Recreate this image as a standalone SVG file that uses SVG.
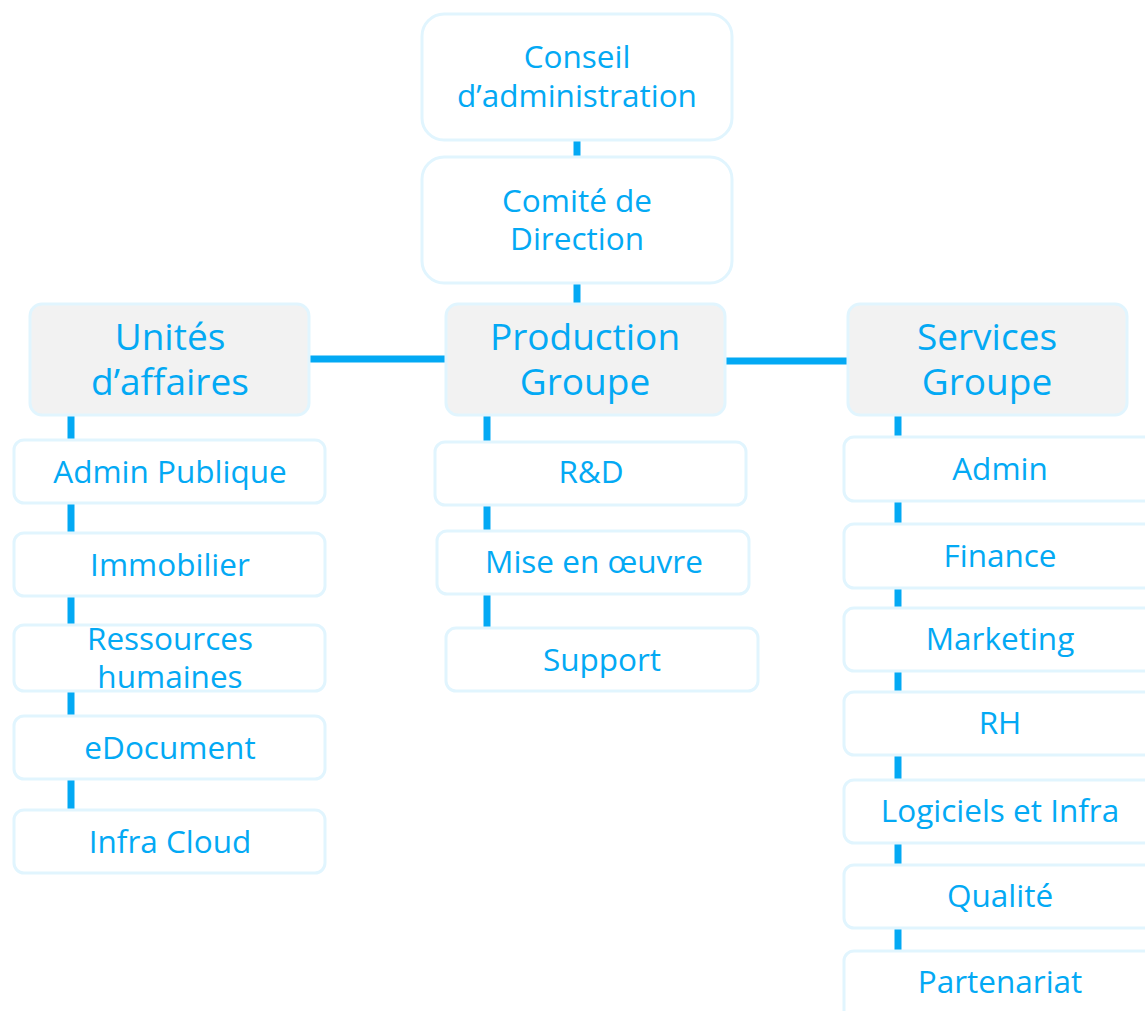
<svg xmlns="http://www.w3.org/2000/svg" width="1145" height="1011" viewBox="0 0 1145 1011">
<style>
.box{fill:#ffffff;stroke:#e1f5fe;stroke-width:3}
.hdr{fill:#f2f2f2;stroke:#e1f5fe;stroke-width:3}
.t{font-family:"Open Sans","Noto Sans",sans-serif;fill:#03a9f4;text-anchor:middle}
.s{font-size:31.5px}
.h{font-size:37px}
.c{stroke:#03a9f4;stroke-width:7;fill:none}
</style>
<rect width="1145" height="1011" fill="#ffffff"/>
<g id="connectors">
<line class="c" x1="577" y1="139" x2="577" y2="158"/>
<line class="c" x1="577" y1="282" x2="577" y2="305"/>
<line class="c" x1="308" y1="359" x2="447" y2="359"/>
<line class="c" x1="724" y1="361" x2="849" y2="361"/>
<line class="c" x1="71" y1="414" x2="71" y2="441"/>
<line class="c" x1="71" y1="502" x2="71" y2="534"/>
<line class="c" x1="71" y1="595" x2="71" y2="626"/>
<line class="c" x1="71" y1="690" x2="71" y2="717"/>
<line class="c" x1="71" y1="778" x2="71" y2="811"/>
<line class="c" x1="487" y1="414" x2="487" y2="443"/>
<line class="c" x1="487" y1="504" x2="487" y2="532"/>
<line class="c" x1="487" y1="593" x2="487" y2="629"/>
<line class="c" x1="898" y1="414" x2="898" y2="438"/>
<line class="c" x1="898" y1="500" x2="898" y2="525"/>
<line class="c" x1="898" y1="587" x2="898" y2="609"/>
<line class="c" x1="898" y1="670" x2="898" y2="693"/>
<line class="c" x1="898" y1="754" x2="898" y2="781"/>
<line class="c" x1="898" y1="842" x2="898" y2="866"/>
<line class="c" x1="898" y1="927" x2="898" y2="952"/>
</g>
<g id="conseil"><rect class="box" x="422" y="14" width="310" height="126" rx="22"/><text class="t s" x="577" y="68">Conseil</text><text class="t s" x="577" y="107">d’administration</text></g>
<g id="comite"><rect class="box" x="422" y="157" width="310" height="126" rx="22"/><text class="t s" x="577" y="212">Comité de</text><text class="t s" x="577" y="250">Direction</text></g>
<g id="unites"><rect class="hdr" x="30" y="304" width="279" height="111" rx="12"/><text class="t h" x="170" y="350">Unités</text><text class="t h" x="170" y="395">d’affaires</text></g>
<g id="production"><rect class="hdr" x="446" y="304" width="279" height="111" rx="12"/><text class="t h" x="585" y="350">Production</text><text class="t h" x="585" y="395">Groupe</text></g>
<g id="services"><rect class="hdr" x="848" y="304" width="279" height="111" rx="12"/><text class="t h" x="987" y="350">Services</text><text class="t h" x="987" y="395">Groupe</text></g>
<g id="admin-publique"><rect class="box" x="14" y="440" width="311" height="63" rx="10"/><text class="t s" x="170" y="483">Admin Publique</text></g>
<g id="immobilier"><rect class="box" x="14" y="533" width="311" height="63" rx="10"/><text class="t s" x="170" y="576">Immobilier</text></g>
<g id="ressources"><rect class="box" x="14" y="625" width="311" height="66" rx="10"/><text class="t s" x="170" y="650">Ressources</text><text class="t s" x="170" y="688">humaines</text></g>
<g id="edocument"><rect class="box" x="14" y="716" width="311" height="63" rx="10"/><text class="t s" x="170" y="759">eDocument</text></g>
<g id="infra-cloud"><rect class="box" x="14" y="810" width="311" height="63" rx="10"/><text class="t s" x="170" y="853">Infra Cloud</text></g>
<g id="rd"><rect class="box" x="435" y="442" width="311" height="63" rx="10"/><text class="t s" x="591" y="483">R&amp;D</text></g>
<g id="mise"><rect class="box" x="437" y="531" width="312" height="63" rx="10"/><text class="t s" x="594" y="573">Mise en œuvre</text></g>
<g id="support"><rect class="box" x="446" y="628" width="312" height="63" rx="10"/><text class="t s" x="602" y="671">Support</text></g>
<g id="admin"><rect class="box" x="844" y="437" width="311" height="64" rx="10"/><text class="t s" x="1000" y="480">Admin</text></g>
<g id="finance"><rect class="box" x="844" y="524" width="311" height="64" rx="10"/><text class="t s" x="1000" y="567">Finance</text></g>
<g id="marketing"><rect class="box" x="844" y="608" width="311" height="63" rx="10"/><text class="t s" x="1000" y="650">Marketing</text></g>
<g id="rh"><rect class="box" x="844" y="692" width="311" height="63" rx="10"/><text class="t s" x="1000" y="734">RH</text></g>
<g id="logiciels"><rect class="box" x="844" y="780" width="311" height="63" rx="10"/><text class="t s" x="1000" y="822">Logiciels et Infra</text></g>
<g id="qualite"><rect class="box" x="844" y="865" width="311" height="63" rx="10"/><text class="t s" x="1000" y="907">Qualité</text></g>
<g id="partenariat"><rect class="box" x="844" y="951" width="311" height="70" rx="10"/><text class="t s" x="1000" y="993">Partenariat</text></g>
</svg>
